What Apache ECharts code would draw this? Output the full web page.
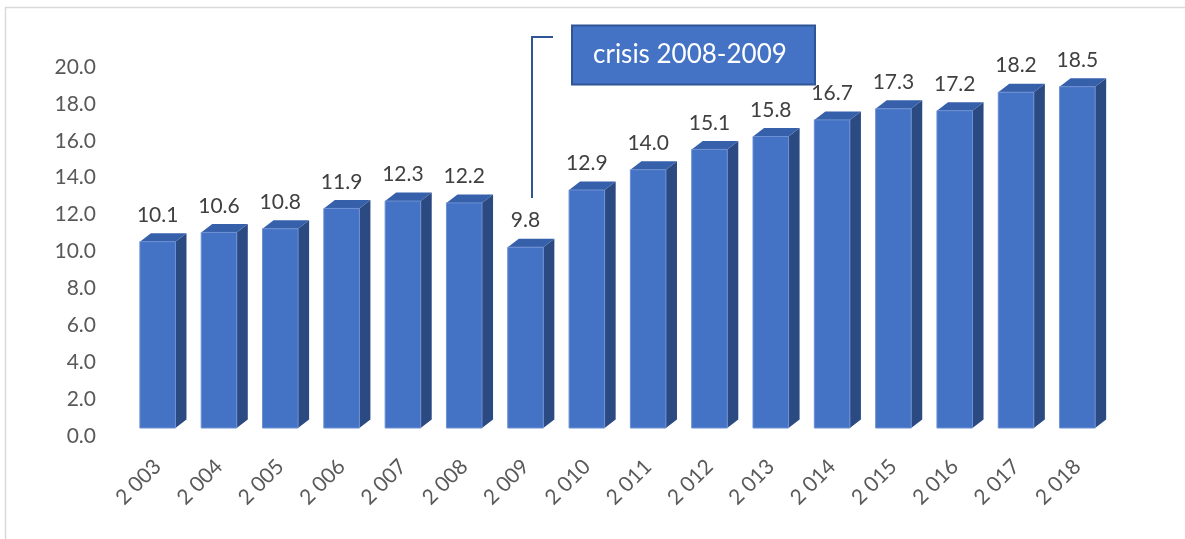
<!DOCTYPE html>
<html>
<head>
<meta charset="utf-8">
<title>Index 2003-2018</title>
<script src="https://cdn.jsdelivr.net/npm/echarts@6/dist/echarts.min.js"></script>
<style>
  html, body { margin: 0; padding: 0; background: #ffffff; }
  #chart { width: 1185px; height: 539px; }
</style>
</head>
<body>
<div id="chart"></div>
<script>
// Yearly values, 2003-2018
const years = ['2 003', '2 004', '2 005', '2 006', '2 007', '2 008', '2 009', '2 010',
               '2 011', '2 012', '2 013', '2 014', '2 015', '2 016', '2 017', '2 018'];
const values = [10.1, 10.6, 10.8, 11.9, 12.3, 12.2, 9.8, 12.9,
                14.0, 15.1, 15.8, 16.7, 17.3, 17.2, 18.2, 18.5];
const yTicks = { min: 0, max: 20, step: 2 };
const calloutText = 'crisis 2008-2009';

const FONT = "Lato, 'Open Sans', sans-serif";
const FRONT = '#4472C4';
const TOP = '#3760AB';
const SIDE = '#2B4A82';

// Pseudo-3D column: front face, top face and right side face
function renderColumn(params, api) {
  const idx = api.value(0);
  const val = api.value(1);
  const top = api.coord([idx, val]);
  const base = api.coord([idx, 0]);
  const band = api.size([1, 0])[0];
  const w = band * 0.58;
  const dx = band * 0.18;
  const dy = 8.5;
  const x0 = top[0] - w / 2;
  const x1 = x0 + w;
  const yt = top[1];
  const yb = base[1];
  return {
    type: 'group',
    children: [
      {
        type: 'polygon',
        shape: { points: [[x1, yt], [x1 + dx, yt - dy], [x1 + dx, yb - dy], [x1, yb]] },
        style: { fill: SIDE }
      },
      {
        type: 'polygon',
        shape: { points: [[x0, yt], [x0 + dx, yt - dy], [x1 + dx, yt - dy], [x1, yt]] },
        style: { fill: TOP }
      },
      {
        type: 'rect',
        shape: { x: x0, y: yt, width: w, height: yb - yt },
        style: { fill: FRONT, stroke: '#6d90d2', lineWidth: 1 }
      },
      {
        type: 'text',
        x: top[0],
        y: yt - 16,
        style: {
          text: val.toFixed(1),
          fill: '#404040',
          font: '21px ' + FONT,
          align: 'center',
          verticalAlign: 'bottom'
        }
      }
    ]
  };
}

const chart = echarts.init(document.getElementById('chart'), null, { renderer: 'canvas' });

chart.setOption({
  backgroundColor: '#ffffff',
  animation: false,
  grid: { left: 127, right: 77, top: 59, bottom: 111, containLabel: false },
  xAxis: {
    type: 'category',
    data: years,
    axisLine: { show: false },
    axisTick: { show: false },
    axisLabel: {
      rotate: 45,
      margin: 35,
      interval: 0,
      color: '#595959',
      fontFamily: FONT,
      fontSize: 21
    }
  },
  yAxis: {
    type: 'value',
    min: yTicks.min,
    max: yTicks.max,
    interval: yTicks.step,
    axisLine: { show: false },
    axisTick: { show: false },
    splitLine: { show: false },
    axisLabel: {
      margin: 31,
      formatter: v => '{t|' + v.toFixed(1) + '}',
      rich: {
        t: {
          color: '#595959',
          fontFamily: FONT,
          fontSize: 21,
          padding: [16, 0, 0, 0]
        }
      }
    }
  },
  series: [{
    type: 'custom',
    renderItem: renderColumn,
    data: values.map((v, i) => [i, v]),
    encode: { x: 0, y: 1 },
    clip: false
  }],
  graphic: [
    // chart frame
    { type: 'line', shape: { x1: 5, y1: 7.5, x2: 1185, y2: 7.5 }, style: { stroke: '#d9d9d9', lineWidth: 1.5 }, silent: true },
    { type: 'line', shape: { x1: 5.5, y1: 7, x2: 5.5, y2: 539 }, style: { stroke: '#d9d9d9', lineWidth: 1.5 }, silent: true },
    // callout leader
    {
      type: 'polyline',
      shape: { points: [[532, 198], [532, 37], [553, 37]] },
      style: { stroke: '#2F5597', lineWidth: 2, fill: null },
      silent: true
    },
    // callout box
    {
      type: 'rect',
      shape: { x: 572, y: 25.5, width: 243, height: 59 },
      style: { fill: '#4472C4', stroke: '#2F5597', lineWidth: 2 },
      silent: true
    },
    {
      type: 'text',
      x: 593,
      y: 55,
      style: {
        text: calloutText,
        fill: '#ffffff',
        font: '26px ' + FONT,
        align: 'left',
        verticalAlign: 'middle'
      },
      silent: true
    }
  ]
});
</script>
</body>
</html>
